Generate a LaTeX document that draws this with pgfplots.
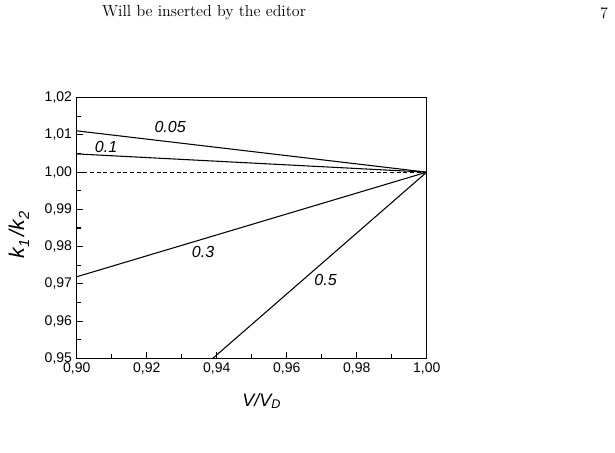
\documentclass[border=0pt]{standalone}
\usepackage{fontspec}
\usepackage{pgfplots}
\pgfplotsset{compat=1.18}
\newfontfamily\arial{Liberation Sans}

\begin{document}
\begin{tikzpicture}
\path[use as bounding box] (0pt,0pt) rectangle (461.25pt,339.75pt);
% page header of the paper
\node[font=\fontsize{12}{14}\selectfont] at (153pt,330pt) {Will be inserted by the editor};
\node[font=\fontsize{12}{14}\selectfont] at (453pt,330pt) {7};

\begin{axis}[
  at={(57.525pt,71.025pt)}, anchor=south west,
  scale only axis,
  width=262.5pt, height=195.45pt,
  xmin=0.90, xmax=1.00,
  ymin=0.95, ymax=1.02,
  xtick={0.90,0.92,...,1.001},
  ytick={0.95,0.96,...,1.021},
  minor x tick num=1,
  minor y tick num=1,
  tick pos=left,
  tick align=inside,
  major tick length=5pt,
  minor tick length=3pt,
  axis line style={line width=1.1pt},
  every tick/.style={black, line width=0.8pt},
  ticklabel style={font=\arial\fontsize{10.5}{12}\selectfont},
  /pgf/number format/assume math mode=true,
  /pgf/number format/use comma,
  /pgf/number format/fixed,
  /pgf/number format/fixed zerofill,
  /pgf/number format/precision=2,
  scaled ticks=false,
  xlabel={\arial\fontsize{13.5}{15}\selectfont\itshape V/V\textsubscript{D}},
  ylabel={\arial\fontsize{16}{18}\selectfont\itshape k\raisebox{-0.45ex}{\fontsize{11}{12}\selectfont 1}\hspace{2.5pt}/k\raisebox{-0.45ex}{\fontsize{11}{12}\selectfont 2}},
  xlabel style={at={(rel axis cs:0.529,-0.164)}, anchor=center},
  ylabel style={at={(rel axis cs:-0.165,0.473)}, anchor=center},
  clip=true,
]
\addplot[black, line width=0.8pt] coordinates {(0.90,1.0111) (1.00,1.00)};
\addplot[black, line width=0.8pt] coordinates {(0.90,1.0049) (1.00,1.00)};
\addplot[black, line width=0.8pt] coordinates {(0.90,0.9719) (1.00,1.00)};
\addplot[black, line width=0.8pt] coordinates {(0.9389,0.95) (1.00,1.00)};
\addplot[black, line width=0.6pt, densely dashed] coordinates {(0.90,1.00) (1.00,1.00)};

\node[font=\arial\fontsize{12}{14}\selectfont\itshape] at (axis cs:0.9267,1.0121) {0.05};
\node[font=\arial\fontsize{12}{14}\selectfont\itshape] at (axis cs:0.9084,1.0068) {0.1};
\node[font=\arial\fontsize{12}{14}\selectfont\itshape] at (axis cs:0.9361,0.9786) {0.3};
\node[font=\arial\fontsize{12}{14}\selectfont\itshape] at (axis cs:0.9711,0.9710) {0.5};
\end{axis}
\end{tikzpicture}
\end{document}
